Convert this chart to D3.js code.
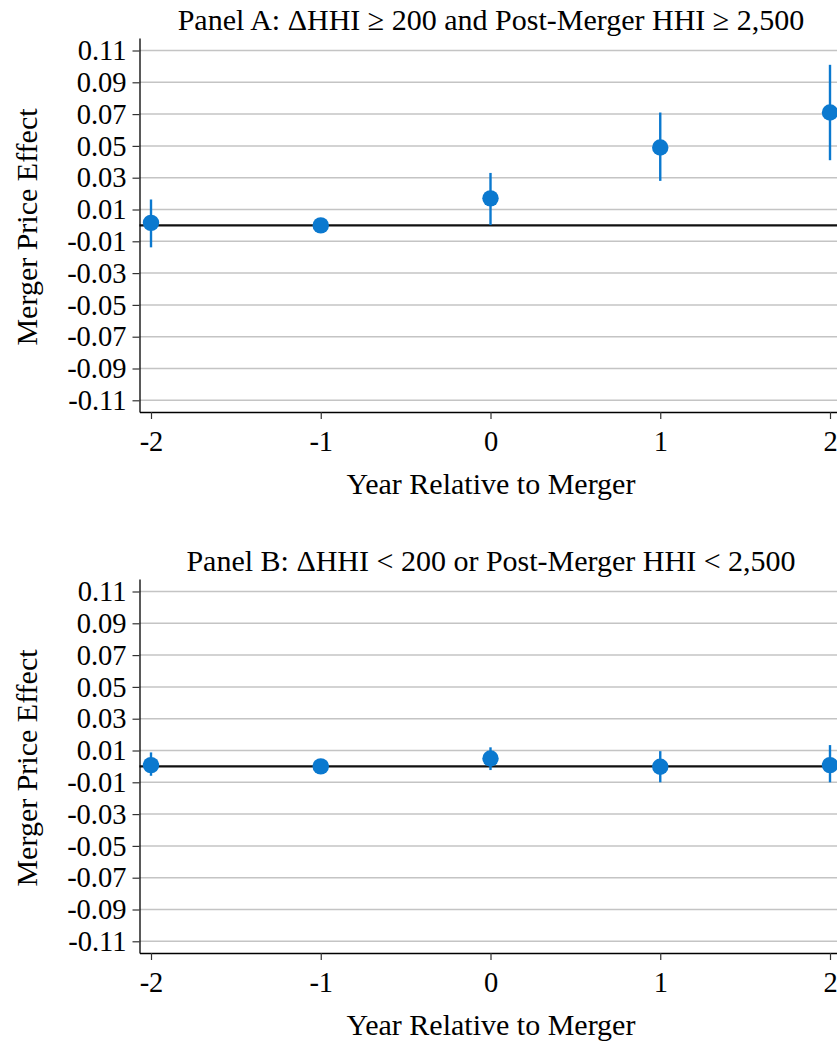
<!DOCTYPE html>
<html>
<head>
<meta charset="utf-8">
<script src="https://cdn.jsdelivr.net/npm/d3@7"></script>
<style>
  body { margin: 0; background: #fff; }
  svg { display: block; font-family: 'Liberation Serif', 'Times New Roman', serif; }
</style>
</head>
<body>
<script>
const years = [-2, -1, 0, 1, 2];
const yTicks = [0.11, 0.09, 0.07, 0.05, 0.03, 0.01, -0.01, -0.03, -0.05, -0.07, -0.09, -0.11];

const panelATitle = 'Panel A: ΔHHI ≥ 200 and Post-Merger HHI ≥ 2,500';
const panelAEst = [0.0016, 0, 0.017, 0.049, 0.071];
const panelALo = [-0.0138, null, 0.0002, 0.028, 0.041];
const panelAHi = [0.0163, null, 0.033, 0.071, 0.101];

const panelBTitle = 'Panel B: ΔHHI < 200 or Post-Merger HHI < 2,500';
const panelBEst = [0.0008, 0, 0.005, -0.0002, 0.0008];
const panelBLo = [-0.0059, null, -0.0023, -0.010, -0.010];
const panelBHi = [0.0088, null, 0.012, 0.0096, 0.0134];

const xLabel = 'Year Relative to Merger';
const yLabel = 'Merger Price Effect';

document.addEventListener('DOMContentLoaded', () => {
  const svg = d3.select('body')
    .append('svg')
    .attr('width', 837)
    .attr('height', 1041);

  drawPanel(svg, 0, panelATitle, panelAEst, panelALo, panelAHi);
  drawPanel(svg, 541, panelBTitle, panelBEst, panelBLo, panelBHi);
});

const drawPanel = (svg, off, title, est, lo, hi) => {
  const blue = '#0b79cf';
  const plot = {left: 139.5, right: 842, top: 38 + off, bottom: 412 + off};

  const x = d3.scaleLinear()
    .domain([-2, 2])
    .range([151, 830]);

  const y = d3.scaleLinear()
    .domain([-0.11, 0.11])
    .range([400.3 + off, 50.5 + off]);

  // axis scales stretched to the frame edges
  const xAxisScale = x.copy()
    .domain([x.invert(plot.left), x.invert(plot.right)])
    .range([plot.left, plot.right]);
  const yAxisScale = y.copy()
    .domain([y.invert(plot.bottom), y.invert(plot.top)])
    .range([plot.bottom, plot.top]);

  const data = years.map((yr, i) => ({yr, est: est[i], lo: lo[i], hi: hi[i]}));

  const g = svg.append('g');

  g.append('g')
    .attr('class', 'grid')
    .selectAll('line')
    .data(yTicks)
    .enter()
    .append('line')
    .attr('x1', plot.left)
    .attr('x2', plot.right)
    .attr('y1', d => y(d))
    .attr('y2', d => y(d))
    .attr('stroke', '#c4c4c4')
    .attr('stroke-width', 1.5);

  g.append('line')
    .attr('x1', plot.left)
    .attr('x2', plot.right)
    .attr('y1', y(0))
    .attr('y2', y(0))
    .attr('stroke', '#111')
    .attr('stroke-width', 2.2);

  g.append('g')
    .selectAll('line')
    .data(data.filter(d => d.lo !== null))
    .enter()
    .append('line')
    .attr('x1', d => x(d.yr))
    .attr('x2', d => x(d.yr))
    .attr('y1', d => y(d.lo))
    .attr('y2', d => y(d.hi))
    .attr('stroke', blue)
    .attr('stroke-width', 2.4);

  g.append('g')
    .selectAll('circle')
    .data(data)
    .enter()
    .append('circle')
    .attr('cx', d => x(d.yr))
    .attr('cy', d => y(d.est))
    .attr('r', 8.2)
    .attr('fill', blue);

  const yAxis = g.append('g')
    .attr('transform', `translate(${plot.left}, 0)`)
    .call(d3.axisLeft(yAxisScale)
          .tickValues(yTicks)
          .tickFormat(d => d.toFixed(2))
          .tickSize(7)
          .tickSizeOuter(0)
          .tickPadding(6));

  const xAxis = g.append('g')
    .attr('transform', `translate(0, ${plot.bottom})`)
    .call(d3.axisBottom(xAxisScale)
          .tickValues(years)
          .tickFormat(d3.format('d'))
          .tickSize(7)
          .tickSizeOuter(0)
          .tickPadding(12));

  [yAxis, xAxis].forEach(a => {
    a.attr('font-family', null).attr('font-size', 28.5);
    a.selectAll('text').attr('fill', '#000');
    a.selectAll('line').attr('stroke', '#333').attr('stroke-width', 1.2);
    a.select('.domain').attr('stroke', '#000').attr('stroke-width', 1.3);
  });
  xAxis.selectAll('text').text(d => d < 0 ? '-' + Math.abs(d) : d);

  g.append('text')
    .attr('x', 491)
    .attr('y', 30 + off)
    .attr('text-anchor', 'middle')
    .attr('font-size', 30)
    .text(title);

  g.append('text')
    .attr('x', 491)
    .attr('y', 494 + off)
    .attr('text-anchor', 'middle')
    .attr('font-size', 30)
    .text(xLabel);

  g.append('text')
    .attr('transform', `translate(37, ${227 + off}) rotate(-90)`)
    .attr('text-anchor', 'middle')
    .attr('font-size', 30)
    .text(yLabel);
};
</script>
</body>
</html>
